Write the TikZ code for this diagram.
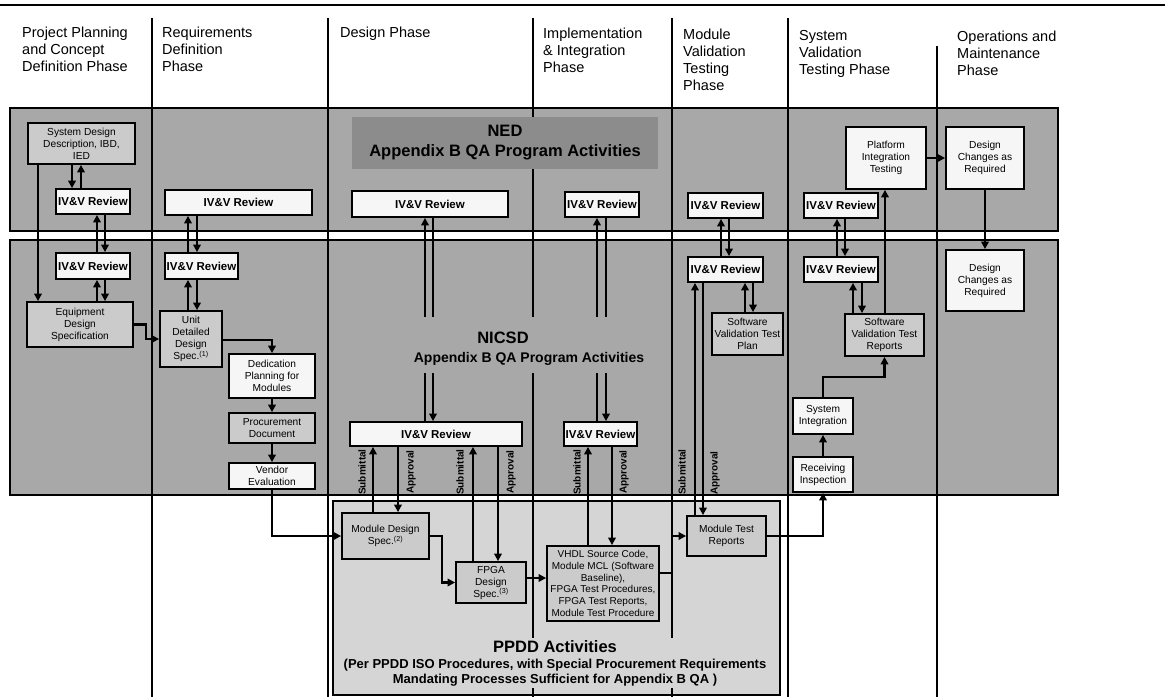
\documentclass[tikz,border=0pt]{standalone}
\usepackage{fontspec}
\setmainfont{Liberation Sans}
\usetikzlibrary{arrows.meta}

\definecolor{bandgray}{HTML}{A8A8A8}
\definecolor{boxgray}{HTML}{CBCBCB}
\definecolor{titlegray}{HTML}{8C8C8C}
\definecolor{ppddgray}{HTML}{D5D5D5}
\definecolor{boxwhite}{HTML}{F6F6F6}

\begin{document}
\begin{tikzpicture}[x=1pt,y=-1pt,
  band/.style={draw=black, line width=1.4pt, fill=bandgray},
  phase/.style={line width=1.2pt},
  head/.style={anchor=north west, inner sep=0pt, align=left, font=\fontsize{14.5}{17}\selectfont},
  blk/.style={draw=black, line width=1.8pt, align=center, inner sep=1pt, font=\fontsize{10.2}{12}\selectfont},
  lbox/.style={blk, fill=boxgray},
  wbox/.style={blk, fill=boxwhite},
  rev/.style={blk, fill=boxwhite, font=\fontsize{11.5}{13}\selectfont\bfseries},
  arr/.style={line width=2.6pt, -{Triangle[length=7.5pt,width=7.5pt]}},
  lbl/.style={rotate=90, font=\fontsize{10}{12}\selectfont\bfseries, inner sep=0pt},
]
\useasboundingbox (0,0) rectangle (1165,697);
\fill[white] (0,0) rectangle (1165,697);

% top rule
\draw[line width=2.4pt] (0,5) -- (1165,5);

% organisation bands
\draw[band] (10,108) rectangle (1058,231);
\draw[band] (10,240) rectangle (1058,495);
\draw[line width=1.4pt, fill=ppddgray] (333,501) rectangle (780,695);

% phase separators
\draw[phase] (152,18) -- (152,697);
\draw[phase] (328,18) -- (328,697);
\draw[phase] (533,18) -- (533,697);
\draw[phase] (672,18) -- (672,697);
\draw[phase] (788,18) -- (788,697);
\draw[phase] (937,46) -- (937,697);

% phase headings
\node[head] (h1) at (22,27) {Project Planning\\and Concept\\Definition Phase};
\node[head] (h2) at (162,27) {Requirements\\Definition\\Phase};
\node[head] (h3) at (340,27) {Design Phase};
\node[head] (h4) at (543,28) {Implementation\\\& Integration\\Phase};
\node[head] (h5) at (683,29) {Module\\Validation\\Testing\\Phase};
\node[head] (h6) at (799,30) {System\\Validation\\Testing Phase};
\node[head] (h7) at (957,31) {Operations and\\Maintenance\\Phase};

% NED title
\node[fill=titlegray, minimum width=306pt, minimum height=52pt, align=center,
      font=\bfseries\fontsize{16.5}{20}\selectfont] (nedtitle) at (505,143)
      {NED\\Appendix B QA Program Activities};

% NED band boxes
\node[lbox, minimum width=107pt, minimum height=41pt] (sdd) at (81.5,143.5) {System Design\\Description, IBD,\\IED};
\node[rev, minimum width=74pt, minimum height=25pt] (nedA) at (93,201.5) {IV\&V Review};
\node[rev, minimum width=147pt, minimum height=25pt] (nedB) at (238.5,202.5) {IV\&V Review};
\node[rev, minimum width=156pt, minimum height=26pt] (nedC) at (430,204) {IV\&V Review};
\node[rev, minimum width=74pt, minimum height=25pt] (nedD) at (602,204.5) {IV\&V Review};
\node[rev, minimum width=75pt, minimum height=25pt] (nedE) at (725.5,205.5) {IV\&V Review};
\node[rev, minimum width=74pt, minimum height=25pt] (nedF) at (841,205.5) {IV\&V Review};
\node[wbox, minimum width=80pt, minimum height=62pt] (pit) at (886,158) {Platform\\Integration\\Testing};
\node[wbox, minimum width=78pt, minimum height=62pt] (dcA) at (985,158) {Design\\Changes as\\Required};

% NICSD band boxes
\node[rev, minimum width=74pt, minimum height=26pt] (nicA) at (93,266) {IV\&V Review};
\node[rev, minimum width=73pt, minimum height=26pt] (nicB) at (201.5,266) {IV\&V Review};
\node[rev, minimum width=75pt, minimum height=25pt] (nicE) at (725.5,269.5) {IV\&V Review};
\node[rev, minimum width=74pt, minimum height=25pt] (nicF) at (841,269.5) {IV\&V Review};
\node[wbox, minimum width=78pt, minimum height=61pt] (dcB) at (985,280.5) {Design\\Changes as\\Required};
\node[lbox, minimum width=106pt, minimum height=45pt] (eds) at (80,324.5) {Equipment\\Design\\Specification};
\node[lbox, minimum width=62pt, minimum height=56pt] (udd) at (191,339) {Unit\\Detailed\\Design\\Spec.\textsuperscript{(1)}};
\node[wbox, minimum width=86pt, minimum height=44pt] (dpm) at (272,376) {Dedication\\Planning for\\Modules};
\node[lbox, minimum width=86pt, minimum height=30pt] (proc) at (272,428) {Procurement\\Document};
\node[wbox, minimum width=86pt, minimum height=26pt] (vend) at (272,476) {Vendor\\Evaluation};
\node[rev, minimum width=172pt, minimum height=24pt] (nicC) at (436,434) {IV\&V Review};
\node[rev, minimum width=73pt, minimum height=24pt] (nicD) at (600.5,434) {IV\&V Review};
\node[lbox, minimum width=71pt, minimum height=42pt] (svtp) at (747.5,334) {Software\\Validation Test\\Plan};
\node[lbox, minimum width=79pt, minimum height=42pt] (svtr) at (884.5,335) {Software\\Validation Test\\Reports};
\node[wbox, minimum width=60pt, minimum height=36pt] (sysint) at (823,416) {System\\Integration};
\node[wbox, minimum width=60pt, minimum height=35pt] (recv) at (823,474.5) {Receiving\\Inspection};

% PPDD boxes
\node[lbox, minimum width=87pt, minimum height=46pt] (mds) at (385.5,536) {Module Design\\Spec.\textsuperscript{(2)}};
\node[lbox, minimum width=70pt, minimum height=41pt] (fpga) at (491,582.5) {FPGA\\Design\\Spec.\textsuperscript{(3)}};
\node[lbox, minimum width=112pt, minimum height=75pt, font=\fontsize{10}{11.7}\selectfont] (vhdl) at (603,583.5)
  {VHDL Source Code,\\Module MCL (Software\\Baseline),\\FPGA Test Procedures,\\FPGA Test Reports,\\Module Test Procedure};
\node[lbox, minimum width=79pt, minimum height=40pt] (mtr) at (726.5,536) {Module Test\\Reports};

% concept phase flow
\draw[arr] (72,0 |- sdd.south) -- (72,0 |- nedA.north);
\draw[arr] (81,0 |- nedA.north) -- (81,0 |- sdd.south);
\draw[arr] (97,0 |- nicA.north) -- (97,0 |- nedA.south);
\draw[arr] (105,0 |- nedA.south) -- (105,0 |- nicA.north);
\draw[arr] (97,0 |- eds.north) -- (97,0 |- nicA.south);
\draw[arr] (105,0 |- nicA.south) -- (105,0 |- eds.north);
\draw[arr] (38,0 |- sdd.south) -- (38,0 |- eds.north);
\draw[arr] (eds.east) -| (146,339) -- (udd.west |- 0,339);

% requirements phase flow
\draw[arr] (188,0 |- nicB.north) -- (188,0 |- nedB.south);
\draw[arr] (197,0 |- nedB.south) -- (197,0 |- nicB.north);
\draw[arr] (188,0 |- udd.north) -- (188,0 |- nicB.south);
\draw[arr] (197,0 |- nicB.south) -- (197,0 |- udd.north);
\draw[arr] (udd.east |- 0,340) -| (dpm.north);
\draw[arr] (dpm.south) -- (proc.north);
\draw[arr] (proc.south) -- (vend.north);
\draw[arr] (vend.south) |- (mds.west);

% design phase flow
\draw[arr] (425,0 |- nicC.north) -- (425,0 |- nedC.south);
\draw[arr] (433,0 |- nedC.south) -- (433,0 |- nicC.north);
\draw[arr] (373,0 |- mds.north) -- (373,0 |- nicC.south);
\draw[arr] (398,0 |- nicC.south) -- (398,0 |- mds.north);
\draw[arr] (473,0 |- fpga.north) -- (473,0 |- nicC.south);
\draw[arr] (498,0 |- nicC.south) -- (498,0 |- fpga.north);
\draw[arr] (mds.east) -- (442,0 |- mds.east) |- (fpga.west);
\draw[arr] (fpga.east |- 0,578) -- (vhdl.west |- 0,578);

% implementation phase flow
\draw[arr] (597,0 |- nicD.north) -- (597,0 |- nedD.south);
\draw[arr] (606,0 |- nedD.south) -- (606,0 |- nicD.north);
\draw[arr] (588,0 |- vhdl.north) -- (588,0 |- nicD.south);
\draw[arr] (612,0 |- nicD.south) -- (612,0 |- vhdl.north);
\draw[arr] (vhdl.east |- 0,573) -- (672,573) |- (mtr.west);

% module validation flow
\draw[arr] (721,0 |- nicE.north) -- (721,0 |- nedE.south);
\draw[arr] (729,0 |- nedE.south) -- (729,0 |- nicE.north);
\draw[arr] (695,0 |- mtr.north) -- (695,0 |- nicE.south);
\draw[arr] (703,0 |- nicE.south) -- (703,0 |- mtr.north);
\draw[arr] (745,0 |- svtp.north) -- (745,0 |- nicE.south);
\draw[arr] (753,0 |- nicE.south) -- (753,0 |- svtp.north);
\draw[arr] (mtr.east) -| (recv.south);

% system validation flow
\draw[arr] (837,0 |- nicF.north) -- (837,0 |- nedF.south);
\draw[arr] (845,0 |- nedF.south) -- (845,0 |- nicF.north);
\draw[arr] (853,0 |- svtr.north) -- (853,0 |- nicF.south);
\draw[arr] (862,0 |- nicF.south) -- (862,0 |- svtr.north);
\draw[arr] (recv.north) -- (sysint.south);
\draw[arr] (sysint.north) |- (svtr.south |- 0,377) -- (svtr.south);
\draw[arr] (885,0 |- svtr.north) -- (885,0 |- pit.south);
\draw[arr] (pit.east) -- (dcA.west);
\draw[arr] (dcA.south) -- (dcB.north);

% submittal / approval labels
\node[lbl] (sub1) at (362,472) {Submittal};
\node[lbl] (app1) at (411,472) {Approval};
\node[lbl] (sub2) at (460,472) {Submittal};
\node[lbl] (app2) at (511,472) {Approval};
\node[lbl] (sub3) at (577,472) {Submittal};
\node[lbl] (app3) at (624,472) {Approval};
\node[lbl] (sub4) at (682,472) {Submittal};
\node[lbl] (app4) at (715,473) {Approval};

% NICSD title
\node[fill=bandgray, minimum width=240pt, minimum height=56pt, inner sep=0pt] (nicsdbg) at (529,345) {};
\node[font=\bfseries\fontsize{16.5}{19}\selectfont, inner sep=0pt] (nicsd) at (503,338) {NICSD};
\node[font=\bfseries\fontsize{14}{17}\selectfont, inner sep=0pt] (nicsdsub) at (529,359) {Appendix B QA Program Activities};

% PPDD title
\node[fill=ppddgray, inner sep=2pt, align=center, font=\bfseries\fontsize{13}{15}\selectfont] (ppdd) at (555,663)
  {{\fontsize{16.5}{19}\selectfont PPDD Activities}\\[1pt](Per PPDD ISO Procedures, with Special Procurement Requirements\\Mandating Processes Sufficient for Appendix B QA )};
\end{tikzpicture}
\end{document}
